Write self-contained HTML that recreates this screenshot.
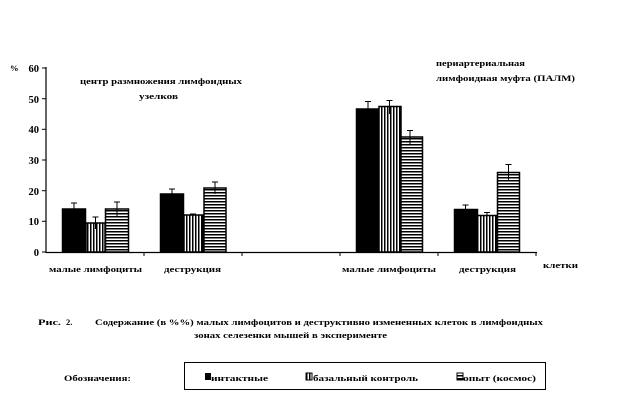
<!DOCTYPE html>
<html><head><meta charset="utf-8"><style>
html,body{margin:0;padding:0;background:#fff;}
svg{display:block;}
text{font-family:"Liberation Serif","DejaVu Serif",serif;font-weight:bold;font-size:8.5px;fill:#000;}
.t{font-size:10.5px;}
</style></head><body>
<svg width="642" height="400" viewBox="0 0 642 400" xmlns="http://www.w3.org/2000/svg">
<defs>
<pattern id="v" width="3" height="4" patternUnits="userSpaceOnUse"><rect width="3" height="4" fill="#fff"/><rect x="0" width="1.5" height="4" fill="#000"/></pattern>
<pattern id="h" width="4" height="3" patternUnits="userSpaceOnUse"><rect width="4" height="3" fill="#fff"/><rect y="0" width="4" height="1.5" fill="#000"/></pattern>
</defs>
<line x1="46" y1="67" x2="46" y2="253" stroke="#000" stroke-width="1.2"/>
<line x1="46" y1="252.5" x2="537" y2="252.5" stroke="#000" stroke-width="1.2"/>
<g stroke="#000" stroke-width="1">
<line x1="42" y1="68" x2="46" y2="68"/><line x1="42" y1="98.7" x2="46" y2="98.7"/><line x1="42" y1="129.3" x2="46" y2="129.3"/><line x1="42" y1="160" x2="46" y2="160"/><line x1="42" y1="190.7" x2="46" y2="190.7"/><line x1="42" y1="221.3" x2="46" y2="221.3"/><line x1="42" y1="252" x2="46" y2="252"/>
<line x1="144" y1="252" x2="144" y2="256"/><line x1="242" y1="252" x2="242" y2="256"/><line x1="340" y1="252" x2="340" y2="256"/><line x1="438" y1="252" x2="438" y2="256"/><line x1="536" y1="252" x2="536" y2="256"/>
</g>
<g text-anchor="end" class="t">
<text class="t" x="39" y="72">60</text><text class="t" x="39" y="103">50</text><text class="t" x="39" y="133">40</text><text class="t" x="39" y="164">30</text><text class="t" x="39" y="195">20</text><text class="t" x="39" y="225">10</text><text class="t" x="39" y="256">0</text>
</g>
<text x="10" y="71" font-weight="normal">%</text>
<g stroke="#000" stroke-width="1.5">
<rect x="62.5" y="209" width="23" height="43" fill="#000"/>
<rect x="86" y="223" width="19" height="29" fill="url(#v)"/>
<rect x="105.5" y="209" width="23" height="43" fill="url(#h)"/>
<rect x="160.5" y="194" width="23" height="58" fill="#000"/>
<rect x="184" y="215" width="19" height="37" fill="url(#v)"/>
<rect x="204" y="188" width="22" height="64" fill="url(#h)"/>
<rect x="356.5" y="109" width="24" height="143" fill="#000"/>
<rect x="379" y="106.5" width="22" height="145.5" fill="url(#v)"/>
<rect x="401" y="137" width="21.5" height="115" fill="url(#h)"/>
<rect x="454.5" y="209.5" width="23" height="42.5" fill="#000"/>
<rect x="477" y="215.5" width="20" height="36.5" fill="url(#v)"/>
<rect x="497.5" y="172.5" width="22" height="79.5" fill="url(#h)"/>
</g>
<g stroke="#000" stroke-width="1">
<path d="M74 203V209M71 203H77"/>
<path d="M95.5 217V229M92.5 217H98.5"/>
<path d="M117 202V216M114 202H120"/>
<path d="M172 189V194M169 189H175"/>
<path d="M193 214V218M190 214H196"/>
<path d="M215 182V194M212 182H218"/>
<path d="M368 101.5V109M365 101.5H371"/>
<path d="M389.5 100.5V114M386.5 100.5H392.5"/>
<path d="M410 130.5V144M407 130.5H413"/>
<path d="M465.5 205V210M462.5 205H468.5"/>
<path d="M487 212.5V219M484 212.5H490"/>
<path d="M508.5 164.5V181M505.5 164.5H511.5"/>
</g>
<text x="80" y="84" textLength="162" lengthAdjust="spacingAndGlyphs">центр размножения лимфоидных</text>
<text x="139" y="99" textLength="39" lengthAdjust="spacingAndGlyphs">узелков</text>
<text x="436" y="66" textLength="89" lengthAdjust="spacingAndGlyphs">периартериальная</text>
<text x="436" y="81" textLength="139" lengthAdjust="spacingAndGlyphs">лимфоидная муфта (ПАЛМ)</text>
<text x="49" y="272" textLength="93" lengthAdjust="spacingAndGlyphs">малые лимфоциты</text>
<text x="164" y="272" textLength="57" lengthAdjust="spacingAndGlyphs">деструкция</text>
<text x="342" y="272" textLength="94" lengthAdjust="spacingAndGlyphs">малые лимфоциты</text>
<text x="459" y="272" textLength="57" lengthAdjust="spacingAndGlyphs">деструкция</text>
<text x="543" y="268" textLength="35" lengthAdjust="spacingAndGlyphs">клетки</text>
<text x="38" y="325" textLength="23" lengthAdjust="spacingAndGlyphs">Рис.</text>
<text x="66" y="325">2.</text>
<text x="95" y="325" textLength="448" lengthAdjust="spacingAndGlyphs">Содержание  (в %%) малых лимфоцитов и деструктивно измененных клеток в лимфоидных</text>
<text x="194" y="338" textLength="193" lengthAdjust="spacingAndGlyphs">зонах селезенки мышей в эксперименте</text>
<text x="64" y="381" textLength="67" lengthAdjust="spacingAndGlyphs">Обозначения:</text>
<rect x="184.5" y="362.5" width="361" height="27" fill="none" stroke="#000" stroke-width="1"/>
<rect x="205" y="373" width="6" height="7" fill="#000"/>
<text x="211" y="381" textLength="57" lengthAdjust="spacingAndGlyphs">интактные</text>
<rect x="306" y="373" width="6" height="7" fill="url(#v)" stroke="#000" stroke-width="1"/>
<text x="313" y="381" textLength="105" lengthAdjust="spacingAndGlyphs">базальный контроль</text>
<rect x="457" y="373" width="6" height="7" fill="url(#h)" stroke="#000" stroke-width="1"/>
<text x="463" y="381" textLength="73" lengthAdjust="spacingAndGlyphs">опыт (космос)</text>
</svg>
</body></html>
